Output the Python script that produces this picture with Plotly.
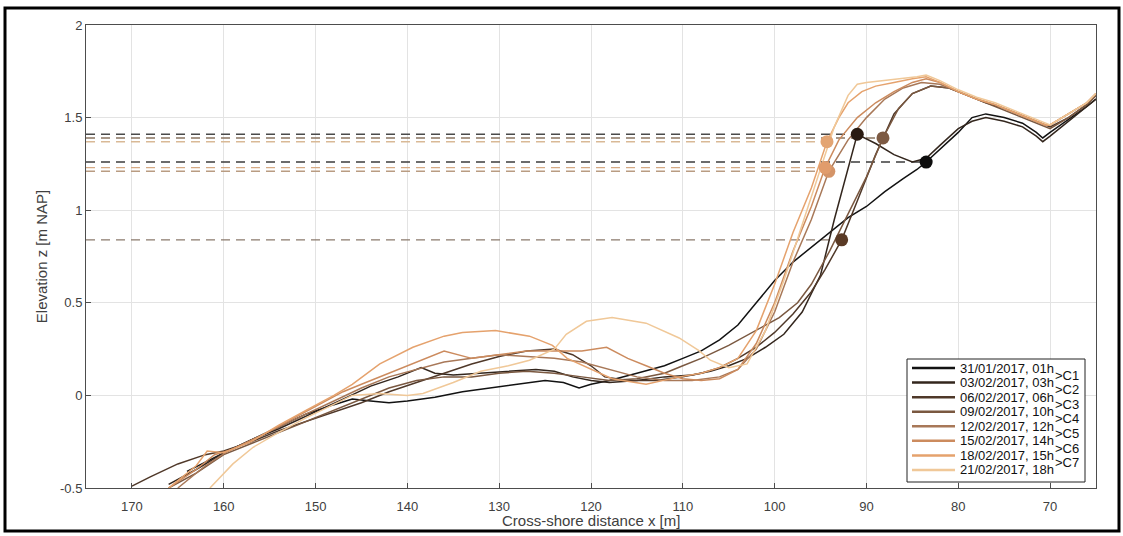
import plotly.graph_objects as go

# ---------------- data ----------------
names = ["31/01/2017, 01h", "03/02/2017, 03h", "06/02/2017, 06h", "09/02/2017, 10h",
         "12/02/2017, 12h", "15/02/2017, 14h", "18/02/2017, 15h", "21/02/2017, 18h"]
change_labels = [">C1", ">C2", ">C3", ">C4", ">C5", ">C6", ">C7"]
x_title = "Cross-shore distance x [m]"
y_title = "Elevation z [m NAP]"

x1 = [164, 162, 160, 157, 154, 151, 148, 146, 144, 142, 140, 137, 134, 131, 128, 125, 123, 121.3, 120, 118, 115, 112, 110, 108, 106, 104, 102, 100, 98, 96, 94, 92, 90, 88, 86, 84.5, 83.5, 82, 80, 78.5, 77, 75, 73, 71.5, 70.8, 70, 68, 66, 65]
y1 = [-0.41, -0.36, -0.31, -0.24, -0.17, -0.1, -0.05, -0.02, -0.03, -0.04, -0.03, -0.01, 0.02, 0.04, 0.06, 0.08, 0.07, 0.04, 0.06, 0.08, 0.12, 0.16, 0.2, 0.24, 0.3, 0.38, 0.5, 0.62, 0.72, 0.8, 0.88, 0.96, 1.02, 1.1, 1.17, 1.22, 1.26, 1.33, 1.42, 1.5, 1.52, 1.5, 1.47, 1.42, 1.39, 1.42, 1.49, 1.56, 1.6]

x2 = [166, 163, 160, 157, 154, 150, 147, 144, 141, 138.5, 137, 135, 132, 129, 126, 124, 122, 120, 118, 115, 112, 109, 107, 105, 103, 101, 99, 97, 95, 93.5, 92, 91, 89, 87, 85, 83.5, 82, 80, 78.5, 77, 75, 73, 71.5, 70.8, 70, 68, 66, 65]
y2 = [-0.48, -0.4, -0.31, -0.24, -0.18, -0.09, -0.02, 0.05, 0.1, 0.15, 0.12, 0.11, 0.12, 0.13, 0.14, 0.13, 0.1, 0.08, 0.07, 0.08, 0.1, 0.11, 0.13, 0.16, 0.2, 0.26, 0.33, 0.45, 0.65, 0.95, 1.22, 1.41, 1.36, 1.3, 1.26, 1.28, 1.35, 1.44, 1.48, 1.5, 1.48, 1.45, 1.4, 1.37, 1.4, 1.48, 1.56, 1.6]

x3 = [170, 168, 165, 162, 160, 157, 154, 151, 148, 145, 142, 139, 136, 133, 130, 127, 124, 122, 120, 118.5, 116, 113, 110, 108, 106, 104, 102, 100, 98, 96, 94.5, 92.7, 91, 89, 87, 85, 83, 81, 79, 77, 75, 73, 71, 70, 68, 66, 65]
y3 = [-0.49, -0.44, -0.37, -0.32, -0.3, -0.25, -0.19, -0.14, -0.09, -0.04, 0.02, 0.07, 0.12, 0.17, 0.21, 0.24, 0.25, 0.22, 0.16, 0.1, 0.08, 0.08, 0.1, 0.12, 0.15, 0.2, 0.26, 0.34, 0.44, 0.56, 0.68, 0.84, 1.05, 1.3, 1.52, 1.63, 1.67, 1.66, 1.62, 1.58, 1.55, 1.51, 1.47, 1.45, 1.5, 1.57, 1.62]

x4 = [166, 163, 160, 157, 154, 151, 148, 145, 142, 139, 136, 133, 130, 127, 124, 121, 118, 115, 112, 110, 108, 105, 102, 99.5, 97.5, 96, 94, 92, 90, 88.2, 86.5, 85, 83, 81, 79, 77, 75, 73, 71, 70, 68, 66, 65]
y4 = [-0.5, -0.42, -0.32, -0.26, -0.2, -0.14, -0.08, -0.02, 0.04, 0.08, 0.1, 0.1, 0.12, 0.13, 0.12, 0.1, 0.08, 0.09, 0.12, 0.16, 0.2, 0.27, 0.35, 0.42, 0.5, 0.6, 0.78, 0.98, 1.18, 1.39, 1.55, 1.63, 1.67, 1.66, 1.62, 1.58, 1.54, 1.5, 1.46, 1.44, 1.5, 1.57, 1.62]

x5 = [165, 162, 159.5, 157, 154, 151, 148, 145, 142, 139, 136, 133, 130, 127, 124, 121, 118, 115, 112, 109, 106, 104, 102, 100, 98, 96, 94.1, 92, 90, 88, 86, 84, 82, 80, 78, 76, 74, 72, 70.5, 70, 68, 66, 65]
y5 = [-0.5, -0.38, -0.3, -0.24, -0.17, -0.1, -0.03, 0.04, 0.1, 0.14, 0.18, 0.2, 0.22, 0.21, 0.2, 0.18, 0.14, 0.1, 0.08, 0.08, 0.1, 0.14, 0.25, 0.45, 0.72, 0.95, 1.21, 1.38, 1.5, 1.6, 1.66, 1.69, 1.68, 1.64, 1.6, 1.57, 1.53, 1.49, 1.46, 1.46, 1.52, 1.58, 1.63]

x6 = [166, 163, 161, 159, 156, 153, 150, 147, 145, 142, 139, 136, 133, 130, 127, 124, 121, 118.3, 116, 114, 112, 110, 108, 106, 104, 102, 100, 98, 96, 94.5, 93, 91, 89, 87, 85, 83.5, 82, 80, 78, 76, 74, 72, 70.5, 70, 68, 66, 65]
y6 = [-0.5, -0.4, -0.32, -0.29, -0.22, -0.14, -0.06, 0.02, 0.06, 0.12, 0.18, 0.24, 0.2, 0.22, 0.24, 0.24, 0.24, 0.26, 0.2, 0.16, 0.12, 0.09, 0.08, 0.09, 0.14, 0.28, 0.5, 0.78, 1.02, 1.23, 1.38, 1.5, 1.58, 1.64, 1.69, 1.71, 1.69, 1.64, 1.6, 1.57, 1.53, 1.49, 1.46, 1.46, 1.52, 1.58, 1.63]

x7 = [166, 163, 161.8, 160, 157, 154, 151, 148, 146, 143, 139.4, 136, 134, 130.4, 126.7, 124.2, 122.6, 119.6, 117.7, 114, 110.4, 108, 106, 104, 102, 100, 98, 96, 94.3, 93, 92, 90.5, 89, 87, 85, 83.5, 82, 80, 78, 76, 74, 72, 70.5, 70, 68, 66, 65]
y7 = [-0.5, -0.38, -0.3, -0.31, -0.25, -0.16, -0.08, 0.0, 0.06, 0.17, 0.26, 0.32, 0.34, 0.35, 0.32, 0.27, 0.2, 0.13, 0.09, 0.06, 0.1, 0.12, 0.15, 0.2, 0.35, 0.6, 0.88, 1.12, 1.37, 1.5, 1.58, 1.64, 1.67, 1.69, 1.71, 1.72, 1.69, 1.64, 1.6, 1.57, 1.53, 1.49, 1.46, 1.46, 1.52, 1.58, 1.63]

x8 = [161.5, 159, 156.8, 154, 151, 148, 146, 143, 140, 138.3, 135, 132, 129, 126.7, 124, 122.7, 120.5, 117.7, 114, 110.4, 108.2, 107, 105, 103, 101, 99, 97, 95, 93.5, 92, 91, 90, 88, 86, 84.5, 83.5, 82, 80, 78, 76, 74, 72, 70.5, 70, 68, 66, 65]
y8 = [-0.5, -0.37, -0.28, -0.2, -0.12, -0.05, 0.0, 0.01, 0.0, 0.01, 0.07, 0.13, 0.16, 0.19, 0.25, 0.33, 0.4, 0.42, 0.39, 0.31, 0.24, 0.19, 0.15, 0.17, 0.35, 0.62, 0.92, 1.22, 1.45, 1.62, 1.68, 1.69, 1.7, 1.71, 1.72, 1.73, 1.7, 1.65, 1.61, 1.58, 1.54, 1.5, 1.47, 1.46, 1.52, 1.58, 1.63]

profiles_x = [x1, x2, x3, x4, x5, x6, x7, x8]
profiles_y = [y1, y2, y3, y4, y5, y6, y7, y8]

# dune-foot points (one per profile except the last)
foot_x = [83.5, 91.0, 92.7, 88.2, 94.1, 94.5, 94.3]
foot_y = [1.26, 1.41, 0.84, 1.39, 1.21, 1.23, 1.37]

x_ticks = [170, 160, 150, 140, 130, 120, 110, 100, 90, 80, 70]
y_ticks = [-0.5, 0, 0.5, 1, 1.5, 2]
y_tick_text = ["-0.5", "0", "0.5", "1", "1.5", "2"]

# ---------------- styles ----------------
line_colors = ["#121212", "#33261d", "#4f3829", "#7a5840", "#a87858", "#cc8b5e", "#e5a26d", "#f0c898"]
marker_colors = ["#0d0d0d", "#2a1b12", "#5a3a25", "#7d5a43", "#d49468", "#e19c6c", "#e3a472"]
dash_colors = ["#3c3c3c", "#4a4a4a", "#8a7a6c", "#8a7561", "#b99c82", "#d6aa84", "#d9b996"]

W, H = 1123, 536
ML, MR, MT, MB = 86, 27, 25, 48
PW, PH = W - ML - MR, H - MT - MB
XMIN, XMAX = 175, 65


def px(xp):
    return (xp - ML) / PW


def py(yp):
    return (H - MB - yp) / PH


FONT = "Liberation Sans, Arial, sans-serif"

fig = go.Figure()

# dashed dune-foot levels
for fx, fy, c in zip(foot_x, foot_y, dash_colors):
    fig.add_trace(go.Scatter(x=[XMIN, fx], y=[fy, fy], mode="lines",
                             line=dict(color=c, width=1.4, dash="9px,6px"),
                             showlegend=False, hoverinfo="skip"))

# profiles
for xs, ys, c, n in zip(profiles_x, profiles_y, line_colors, names):
    fig.add_trace(go.Scatter(x=xs, y=ys, mode="lines", name=n,
                             line=dict(color=c, width=1.5), showlegend=False))

# markers
for fx, fy, c in zip(foot_x, foot_y, marker_colors):
    fig.add_trace(go.Scatter(x=[fx], y=[fy], mode="markers",
                             marker=dict(color=c, size=13, line=dict(width=0)),
                             showlegend=False))

shapes = []
annotations = []

# x-axis title
annotations.append(dict(xref="paper", yref="paper", x=0.5, y=py(520), text=x_title,
                        showarrow=False, xanchor="center", yanchor="middle",
                        font=dict(family=FONT, size=15, color="#404040")))

# custom legend (compact MATLAB-like)
LX0, LX1, LY0, LY1 = 907, 1085, 359, 482
shapes.append(dict(type="rect", xref="paper", yref="paper", x0=px(LX0), x1=px(LX1),
                   y0=py(LY1), y1=py(LY0), line=dict(color="#222", width=1),
                   fillcolor="white", layer="above"))
row0, dy = 368.0, 14.57
for i, (n, c) in enumerate(zip(names, line_colors)):
    yy = row0 + i * dy
    shapes.append(dict(type="line", xref="paper", yref="paper", x0=px(912), x1=px(955),
                       y0=py(yy), y1=py(yy), line=dict(color=c, width=2.5), layer="above"))
    annotations.append(dict(xref="paper", yref="paper", x=px(958), y=py(yy), text=n,
                            showarrow=False, xanchor="left", yanchor="middle",
                            font=dict(family=FONT, size=13, color="#111")))
for i, lab in enumerate(change_labels):
    yy = row0 + i * dy + dy / 2
    annotations.append(dict(xref="paper", yref="paper", x=px(1053), y=py(yy), text=lab,
                            showarrow=False, xanchor="left", yanchor="middle",
                            font=dict(family=FONT, size=13, color="#111")))

# outer frame
shapes.append(dict(type="rect", xref="paper", yref="paper", x0=px(5), x1=px(1119),
                   y0=py(531), y1=py(8), line=dict(color="black", width=3), layer="above"))

fig.update_layout(
    width=W, height=H,
    margin=dict(l=ML, r=MR, t=MT, b=MB, autoexpand=False),
    paper_bgcolor="white", plot_bgcolor="white",
    showlegend=False,
    font=dict(family=FONT, size=13, color="#404040"),
    shapes=shapes, annotations=annotations,
    xaxis=dict(range=[XMIN, XMAX], tickvals=x_ticks, ticks="inside", ticklen=5,
               tickcolor="#4d4d4d", showline=True, linecolor="#4d4d4d", linewidth=1,
               mirror=True, showgrid=True, gridcolor="#e3e3e3", gridwidth=1, zeroline=False,
               tickfont=dict(size=13, color="#404040"), ticklabelstandoff=6,
               automargin=False),
    yaxis=dict(range=[-0.5, 2], tickvals=y_ticks, ticktext=y_tick_text, ticks="inside",
               ticklen=5, tickcolor="#4d4d4d", showline=True, linecolor="#4d4d4d",
               linewidth=1, mirror=True, showgrid=True, gridcolor="#e3e3e3", gridwidth=1,
               zeroline=False, tickfont=dict(size=13, color="#404040"), automargin=False,
               title=dict(text=y_title, standoff=8,
                          font=dict(size=15, color="#404040"))),
)

fig.write_html("out.html", config={"displayModeBar": False},
               post_script="document.body.style.margin='0px';document.body.style.padding='0px';document.body.style.overflow='hidden';")
